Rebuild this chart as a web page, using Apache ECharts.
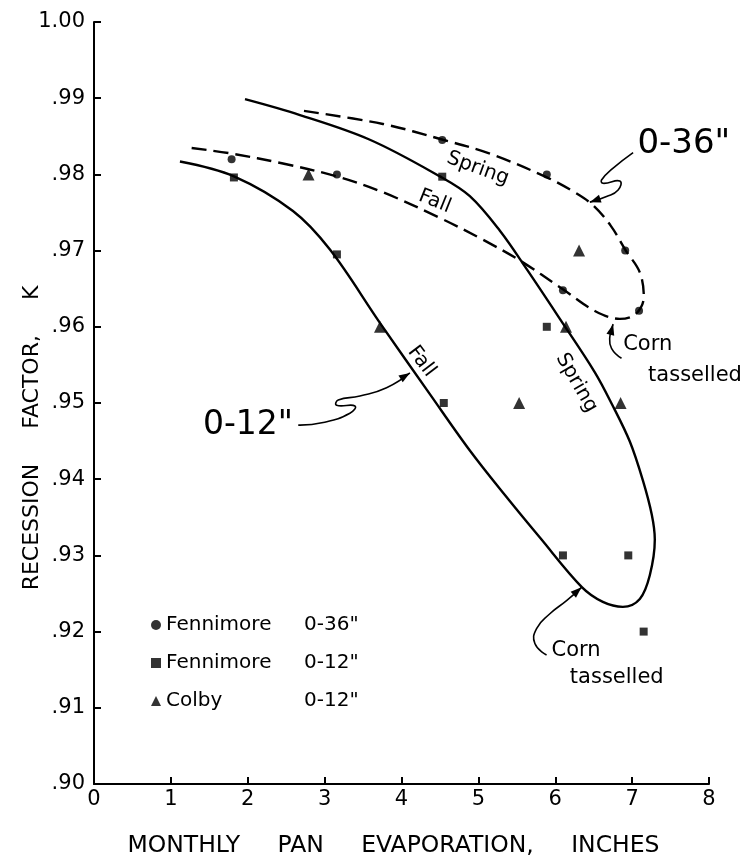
<!DOCTYPE html>
<html>
<head>
<meta charset="utf-8">
<script src="https://cdn.jsdelivr.net/npm/echarts@6/dist/echarts.min.js"></script>
<style>
html,body{margin:0;padding:0;background:#fff;}
#chart{width:750px;height:863px;}
</style>
</head>
<body>
<div id="chart"></div>
<script>
// ---- Data ----
const xTicks = [0, 1, 2, 3, 4, 5, 6, 7, 8];
const yTicks = [0.90, 0.91, 0.92, 0.93, 0.94, 0.95, 0.96, 0.97, 0.98, 0.99, 1.00];

// Observed points
const fennimore36 = [[1.79, 0.982], [3.16, 0.980], [4.53, 0.9845], [5.89, 0.980], [6.10, 0.9648], [6.91, 0.970], [7.09, 0.9621]];
const fennimore12 = [[1.82, 0.9796], [3.16, 0.9695], [4.53, 0.9797], [5.89, 0.960], [4.55, 0.950], [6.10, 0.930], [6.95, 0.930], [7.15, 0.920]];
const colby12 = [[2.79, 0.980], [3.72, 0.960], [6.31, 0.970], [6.14, 0.960], [5.53, 0.950], [6.85, 0.950]];

// Fitted curve 0-12" (Fall branch -> corn tasselled -> Spring branch)
const curve12 = [[1.118, 0.98169], [1.821, 0.97974], [2.588, 0.97519], [3.069, 0.97013], [3.719, 0.96052],
  [4.369, 0.95117], [4.889, 0.94377], [5.345, 0.93792], [5.800, 0.93234], [6.346, 0.92584], [6.619, 0.92390],
  [6.879, 0.92325], [7.100, 0.92429], [7.230, 0.92740], [7.295, 0.93208], [7.256, 0.93532], [7.139, 0.93987],
  [6.970, 0.94494], [6.736, 0.94987], [6.515, 0.95403], [6.060, 0.96104], [5.631, 0.96753], [5.280, 0.97260],
  [4.889, 0.97714], [4.499, 0.97974], [3.589, 0.98455], [2.679, 0.98779], [1.964, 0.98987]];

// Fitted curve 0-36" (Fall branch -> corn tasselled -> Spring branch)
const curve36 = [[1.270, 0.98347], [1.791, 0.98273], [2.458, 0.98143], [3.156, 0.97974], [3.758, 0.97766],
  [4.499, 0.97429], [5.059, 0.97143], [5.540, 0.96870], [6.099, 0.96494], [6.515, 0.96208], [6.840, 0.96104],
  [7.048, 0.96169], [7.152, 0.96390], [7.100, 0.96714], [6.918, 0.97000], [6.723, 0.97325], [6.489, 0.97597],
  [6.229, 0.97779], [5.891, 0.97961], [5.150, 0.98273], [4.538, 0.98455], [3.758, 0.98662], [2.718, 0.98835]];

// Annotation leader paths (data coordinates), last point is the arrow tip
const arrow36 = [[7.013, 0.98286], [6.749, 0.98078], [6.602, 0.97926], [6.623, 0.97883], [6.840, 0.97913], [6.818, 0.97796], [6.667, 0.97710], [6.450, 0.97636]];
const arrow12 = [[2.657, 0.94710], [2.982, 0.94744], [3.329, 0.94866], [3.394, 0.94961], [3.156, 0.94970], [3.177, 0.95039], [3.459, 0.95091], [3.806, 0.95199], [4.109, 0.95394]];
const arrowCorn36 = [[6.862, 0.95588], [6.732, 0.95718], [6.710, 0.95870], [6.753, 0.96035]];
const arrowCorn12 = [[5.887, 0.91692], [5.735, 0.91844], [5.757, 0.92039], [5.930, 0.92234], [6.147, 0.92406], [6.342, 0.92581]];

const FONT = '"DejaVu Sans", sans-serif';
const chart = echarts.init(document.getElementById('chart'), null, {renderer: 'canvas'});

function fmtY(v) {
  const s = Number(v).toFixed(2);
  return s.charAt(0) === '0' ? s.slice(1) : s;
}

const legendNames = ['Fennimore 0-36"', 'Fennimore 0-12"', 'Colby 0-12"'];

chart.setOption({
  animation: false,
  backgroundColor: '#ffffff',
  textStyle: {fontFamily: FONT, color: '#000'},
  grid: {left: 94, right: 41, top: 22, bottom: 71, containLabel: false},
  xAxis: {
    type: 'value', min: xTicks[0], max: xTicks[xTicks.length - 1], interval: 1,
    axisLine: {lineStyle: {color: '#000', width: 2}},
    axisTick: {inside: true, length: 7, lineStyle: {color: '#000', width: 2}},
    axisLabel: {color: '#000', fontSize: 21, margin: 5, fontFamily: FONT},
    splitLine: {show: false},
    name: 'MONTHLY     PAN     EVAPORATION,     INCHES',
    nameLocation: 'middle', nameGap: 50,
    nameTextStyle: {color: '#000', fontSize: 23.5, fontFamily: FONT, padding: [0, 16, 0, 0]}
  },
  yAxis: {
    type: 'value', min: yTicks[0], max: yTicks[yTicks.length - 1], interval: 0.01,
    axisLine: {lineStyle: {color: '#000', width: 2}},
    axisTick: {inside: true, length: 7, lineStyle: {color: '#000', width: 2}},
    axisLabel: {color: '#000', fontSize: 21, margin: 9, fontFamily: FONT, formatter: fmtY},
    splitLine: {show: false}
  },
  legend: {
    data: legendNames.map(function (n, i) {
      return {name: n, icon: ['circle', 'rect', 'triangle'][i]};
    }),
    orient: 'vertical', left: 146, top: 610, itemGap: 18,
    itemWidth: 10, itemHeight: 10,
    selectedMode: false,
    formatter: function (name) {
      const idx = name.lastIndexOf(' ');
      return '{a|' + name.slice(0, idx) + '}{b|' + name.slice(idx + 1) + '}';
    },
    textStyle: {
      color: '#000', fontFamily: FONT, fontSize: 20,
      rich: {
        a: {width: 138, fontSize: 20, fontFamily: FONT, color: '#000', lineHeight: 20},
        b: {fontSize: 20, fontFamily: FONT, color: '#000', lineHeight: 20}
      }
    }
  },
  series: [
    {
      name: 'curve 0-12', type: 'line', data: curve12, smooth: 0.35, symbol: 'none',
      lineStyle: {color: '#000', width: 2.4}, z: 2, silent: true
    },
    {
      name: 'curve 0-36', type: 'line', data: curve36, smooth: 0.35, symbol: 'none',
      lineStyle: {color: '#000', width: 2.4, type: [15, 7]}, z: 2, silent: true
    },
    {
      name: legendNames[0], type: 'scatter', data: fennimore36, symbol: 'circle', symbolSize: 8,
      itemStyle: {color: '#000'}, z: 5
    },
    {
      name: legendNames[1], type: 'scatter', data: fennimore12, symbol: 'rect', symbolSize: 8,
      itemStyle: {color: '#000'}, z: 5
    },
    {
      name: legendNames[2], type: 'scatter', data: colby12, symbol: 'triangle', symbolSize: 12,
      itemStyle: {color: '#000'}, z: 5
    }
  ]
});

// ---- Annotations placed through the axes' own scale ----
function px(p) { return chart.convertToPixel({gridIndex: 0}, p); }

function leader(path) {
  const pts = path.map(px);
  const els = [];
  els.push({
    type: 'polyline', silent: true, z: 10,
    shape: {points: pts, smooth: 0.5},
    style: {stroke: '#000', lineWidth: 1.6, fill: null}
  });
  const tip = pts[pts.length - 1], prev = pts[pts.length - 2];
  let dx = tip[0] - prev[0], dy = tip[1] - prev[1];
  const len = Math.sqrt(dx * dx + dy * dy) || 1;
  dx /= len; dy /= len;
  const L = 11, W = 4;
  const bx = tip[0] - dx * L, by = tip[1] - dy * L;
  els.push({
    type: 'polygon', silent: true, z: 11,
    shape: {points: [[tip[0], tip[1]], [bx - dy * W, by + dx * W], [bx + dy * W, by - dx * W]]},
    style: {fill: '#000'}
  });
  return els;
}

function label(text, at, size, rotDeg, align) {
  const p = px(at);
  return {
    type: 'text', silent: true, z: 12,
    x: p[0], y: p[1], rotation: (rotDeg || 0) * Math.PI / 180,
    style: {
      text: text, fill: '#000', font: size + 'px ' + FONT,
      textAlign: align || 'center', textVerticalAlign: 'middle',
      align: align || 'center', verticalAlign: 'middle'
    }
  };
}

const graphics = []
  .concat(leader(arrow36))
  .concat(leader(arrow12))
  .concat(leader(arrowCorn36))
  .concat(leader(arrowCorn12));

graphics.push(label('0-36"', [7.672, 0.98403], 34, 0));
graphics.push(label('0-12"', [2.003, 0.94701], 33, 0));
graphics.push(label('Spring', [4.993, 0.98078], 20, -20));
graphics.push(label('Fall', [4.434, 0.97645], 20, -22));
graphics.push(label('Fall', [4.261, 0.95545], 20, -53));
graphics.push(label('Spring', [6.277, 0.95264], 20, -60));
graphics.push(label('Corn', [6.883, 0.95770], 21, 0, 'left'));
graphics.push(label('tasselled', [7.208, 0.95364], 21, 0, 'left'));
graphics.push(label('Corn', [5.952, 0.91757], 21, 0, 'left'));
graphics.push(label('tasselled', [6.190, 0.91403], 21, 0, 'left'));

// y-axis title
graphics.push({
  type: 'text', silent: true, z: 12, x: 32, y: 438, rotation: Math.PI / 2,
  style: {
    text: 'RECESSION     FACTOR,     K', fill: '#000', font: '22px ' + FONT,
    textAlign: 'center', textVerticalAlign: 'middle', align: 'center', verticalAlign: 'middle'
  }
});

chart.setOption({graphic: graphics});
</script>
</body>
</html>
